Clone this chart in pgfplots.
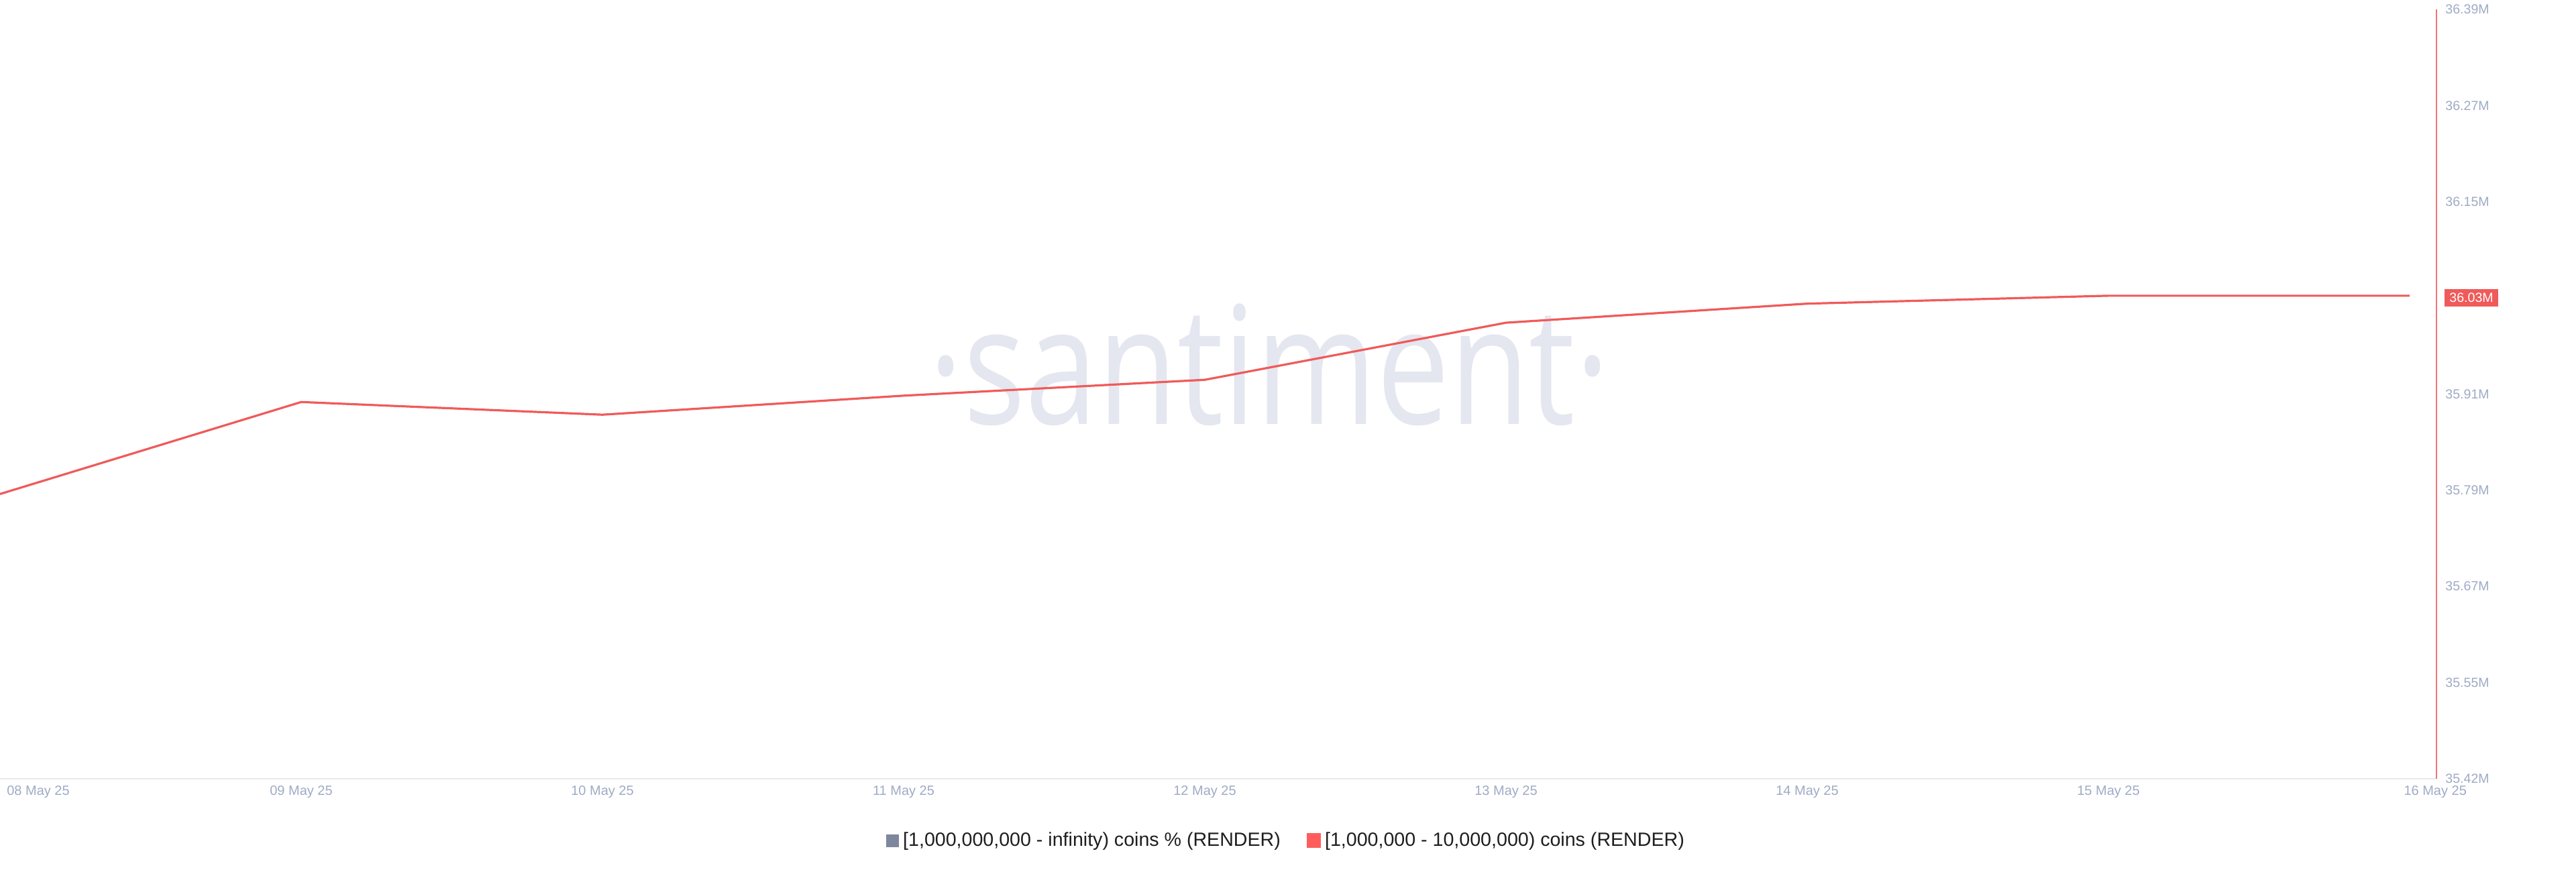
\documentclass[border=0pt]{standalone}
\usepackage{pgfplots}
\pgfplotsset{compat=1.18}
\usepackage{fontspec}
\setmainfont{Liberation Sans}
\newfontfamily\wmfont{Open Sans}

\definecolor{lineRed}{HTML}{F05A5A}
\definecolor{tickGray}{HTML}{9FAAC4}
\definecolor{axisGray}{HTML}{E8E8EC}
\definecolor{legendGray}{HTML}{7F879F}
\definecolor{legendRed}{HTML}{FF5C5C}
\definecolor{legendText}{HTML}{1E1E1E}
\definecolor{wmGray}{HTML}{E4E7EF}

\begin{document}
\begin{tikzpicture}
\begin{axis}[
    scale only axis,
    width=1816pt, height=573.5pt,
    xmin=0, xmax=8.089,
    ymin=35.42, ymax=36.39,
    axis x line*=bottom,
    axis y line*=right,
    x axis line style={draw=axisGray, line width=1.2pt},
    y axis line style={draw=lineRed!85, line width=1pt},
    major tick length=0pt,
    xtick={0.127,1,2,3,4,5,6,7,8.085},
    xticklabels={08 May 25,09 May 25,10 May 25,11 May 25,12 May 25,13 May 25,14 May 25,15 May 25,16 May 25},
    xticklabel style={font=\fontsize{10}{12}\selectfont, text=tickGray, anchor=north, inner sep=0pt, yshift=-5pt},
    ytick={35.42,35.54125,35.6625,35.78375,35.905,36.1475,36.26875,36.39},
    yticklabels={35.42M,35.55M,35.67M,35.79M,35.91M,36.15M,36.27M,36.39M},
    yticklabel style={font=\fontsize{9.8}{12}\selectfont, text=tickGray, anchor=west, inner sep=0pt, xshift=6.5pt},
    extra y ticks={36.02625},
    extra y tick labels={36.03M},
    extra y tick style={yticklabel style={fill=lineRed, text=white, inner xsep=3.5pt, inner ysep=2.9pt, xshift=-0.5pt}},
    legend columns=2,
    legend style={at={(axis description cs:0.5284,-0.0802)}, anchor=center,
        draw=none, fill=none, inner sep=0pt,
        font=\fontsize{14.3}{17}\selectfont, text=legendText,
        nodes={inner xsep=3pt},
        /tikz/every even column/.append style={column sep=16.5pt}},
    clip=false,
]
\node[anchor=base, text=wmGray, inner sep=0pt] at (rel axis cs:0.521,0.4612)
    {\scalebox{0.79}[1]{\wmfont\fontsize{122.5pt}{130pt}\selectfont ·santiment·}};

\addlegendimage{legend image code/.code={\fill[legendGray] (0pt,-4.5pt) rectangle (9pt,4.5pt);}}
\addlegendentry{[1,000,000,000 - infinity) coins \% (RENDER)}

\addplot[lineRed, line width=1.6pt, no marks,
    legend image code/.code={\fill[legendRed] (0pt,-4.5pt) rectangle (9pt,4.5pt);}]
coordinates {
    (0, 35.779)
    (1, 35.895)
    (2, 35.879)
    (3, 35.903)
    (4, 35.923)
    (5, 35.995)
    (6, 36.019)
    (7, 36.029)
    (8, 36.029)
};
\addlegendentry{[1,000,000 - 10,000,000) coins (RENDER)}
\end{axis}
\pgfresetboundingbox
\useasboundingbox (0pt,-69.5pt) rectangle (1920pt,580.5pt);
\end{tikzpicture}
\end{document}
